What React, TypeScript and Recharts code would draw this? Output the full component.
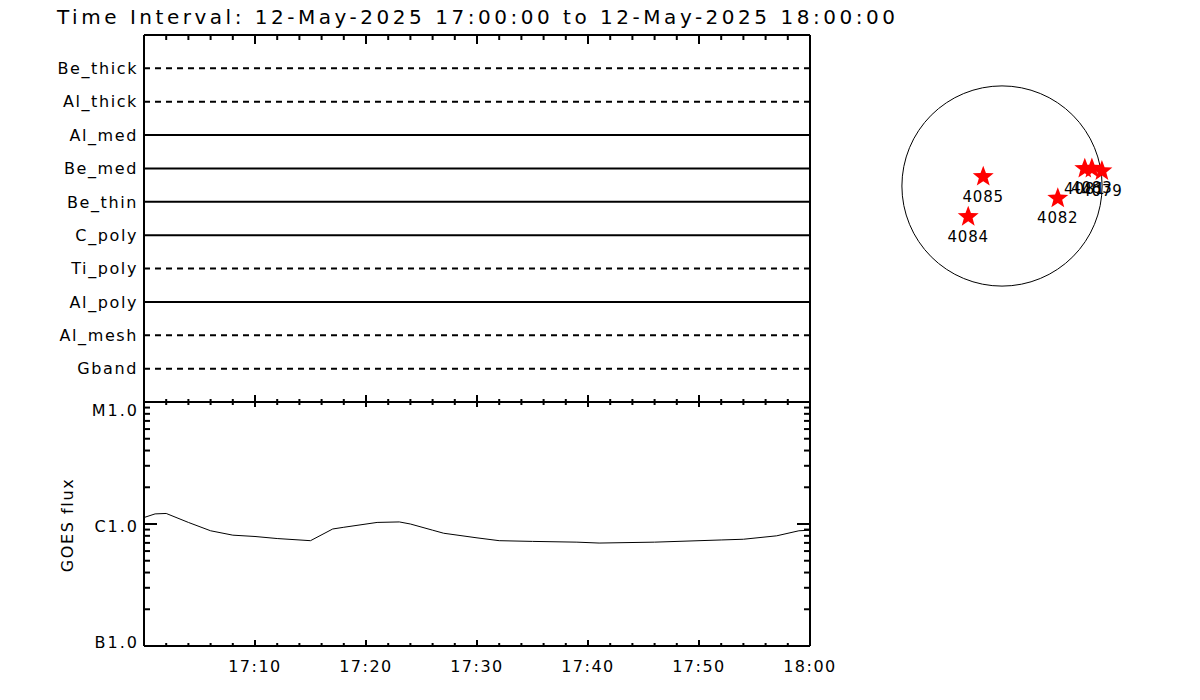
import React from "react";
import {
  LineChart,
  Line,
  XAxis,
  YAxis,
  ReferenceLine,
  ReferenceDot,
  ScatterChart,
  Scatter,
} from "recharts";

// filters, top to bottom
const filters = ["Be_thick", "Al_thick", "Al_med", "Be_med", "Be_thin", "C_poly", "Ti_poly", "Al_poly", "Al_mesh", "Gband"];
const dashedFilters = ["Be_thick", "Al_thick", "Ti_poly", "Al_mesh", "Gband"];

// GOES flux, minutes after 17:00
const goesMinutes = [0, 1, 2, 4, 6, 8, 10, 12, 15, 17, 18, 21, 23, 24, 26, 27, 30, 32, 35, 39, 41, 46, 52, 54, 57, 59, 60];
const goesFlux = [
  1.13e-6, 1.21e-6, 1.22e-6, 1.03e-6, 8.8e-7, 8.1e-7, 7.9e-7, 7.6e-7, 7.3e-7, 9.1e-7, 9.4e-7, 1.03e-6, 1.04e-6,
  1.0e-6, 8.9e-7, 8.4e-7, 7.7e-7, 7.3e-7, 7.2e-7, 7.1e-7, 6.98e-7, 7.1e-7, 7.4e-7, 7.5e-7, 8.0e-7, 8.8e-7, 8.9e-7,
];

const timeTicks = [0, 2, 4, 6, 8, 10, 12, 14, 16, 18, 20, 22, 24, 26, 28, 30, 32, 34, 36, 38, 40, 42, 44, 46, 48, 50, 52, 54, 56, 58, 60];
const timeMajor = [10, 20, 30, 40, 50, 60];
const timeLabels = ["17:10", "17:20", "17:30", "17:40", "17:50", "18:00"];

const fluxTicks = [
  1e-7, 2e-7, 3e-7, 4e-7, 5e-7, 6e-7, 7e-7, 8e-7, 9e-7,
  1e-6, 2e-6, 3e-6, 4e-6, 5e-6, 6e-6, 7e-6, 8e-6, 9e-6, 1e-5,
];
const fluxMajor = [1e-7, 1e-6, 1e-5];
const fluxLabels = ["B1.0", "C1.0", "M1.0"];

// active regions on the disk, arcsec
const regionNames = ["4085", "4084", "4082", "4081", "4083", "4079"];
const regionX = [-180, -324, 535, 794, 862, 958];
const regionY = [89, -295, -118, 166, 168, 144];
const SOLAR_RADIUS = 960;

const FONT = "DejaVu Sans";
const DISK_DOMAIN = 1170;
const DISK_PX = 244;

const goesData = goesMinutes.map((t, i) => ({ t, flux: goesFlux[i] }));
const filterLevels = filters.map((_, i) => filters.length - i);
const filterData = [
  ...goesMinutes.map((t) => ({ t })),
  ...filters.map((name, i) => ({ name, level: filterLevels[i] })),
];
const regionData = regionNames.map((name, i) => ({ name, x: regionX[i], y: regionY[i] }));

const majorIdx = (arr: number[], v: number) => arr.findIndex((m) => Math.abs(m - v) / m < 1e-6);

const TopPanelTopTick = ({ x, y, payload }: any) => {
  const major = payload.value % 10 === 0;
  return <line x1={x} x2={x} y1={y} y2={y + (major ? 9 : 5)} stroke="#000" strokeWidth={2} />;
};

const TopPanelBottomTick = ({ x, y, payload }: any) => {
  const major = payload.value % 10 === 0;
  return <line x1={x} x2={x} y1={y} y2={y - (major ? 7 : 3)} stroke="#000" strokeWidth={2} />;
};

const FilterTick = ({ x, y, payload }: any) => {
  const name = filters[filterLevels.indexOf(payload.value)];
  return (
    <text x={x - 6} y={y} dy="0.36em" textAnchor="end" fontFamily={FONT} fontSize={16} letterSpacing={1.6} fill="#000">
      {name}
    </text>
  );
};

const GoesTopTick = ({ x, y, payload }: any) => {
  const major = payload.value % 10 === 0;
  return <line x1={x} x2={x} y1={y} y2={y + (major ? 5 : 3)} stroke="#000" strokeWidth={2} />;
};

const GoesBottomTick = ({ x, y, payload }: any) => {
  const i = timeMajor.indexOf(payload.value);
  const major = payload.value % 10 === 0;
  return (
    <g>
      <line x1={x} x2={x} y1={y} y2={y - (major ? 6 : 3)} stroke="#000" strokeWidth={2} />
      {i >= 0 && (
        <text x={x} y={y + 26} textAnchor="middle" fontFamily={FONT} fontSize={16} letterSpacing={1.5} fill="#000">
          {timeLabels[i]}
        </text>
      )}
    </g>
  );
};

const FluxLeftTick = ({ x, y, payload }: any) => {
  const i = majorIdx(fluxMajor, payload.value);
  const shift = i === 0 ? -4 : i === 2 ? 8 : 2;
  return (
    <g>
      <line x1={x} x2={x + (i >= 0 ? 13 : 6)} y1={y} y2={y} stroke="#000" strokeWidth={2} />
      {i >= 0 && (
        <text x={x - 5} y={y + shift} dy="0.36em" textAnchor="end" fontFamily={FONT} fontSize={16} letterSpacing={2} fill="#000">
          {fluxLabels[i]}
        </text>
      )}
    </g>
  );
};

const FluxRightTick = ({ x, y, payload }: any) => {
  const i = majorIdx(fluxMajor, payload.value);
  return <line x1={x} x2={x - (i >= 0 ? 13 : 6)} y1={y} y2={y} stroke="#000" strokeWidth={2} />;
};

const StarShape = (props: any) => {
  const { cx, cy, payload } = props;
  const pts: string[] = [];
  for (let k = 0; k < 10; k++) {
    const r = k % 2 === 0 ? 11 : 4.6;
    const a = -Math.PI / 2 + (k * Math.PI) / 5;
    pts.push(`${cx + r * Math.cos(a)},${cy + r * Math.sin(a)}`);
  }
  return (
    <g>
      <polygon points={pts.join(" ")} fill="#ff0000" />
      <text x={cx} y={cy + 25} textAnchor="middle" fontFamily={FONT} fontSize={15} letterSpacing={0.8} fill="#000">
        {payload.name}
      </text>
    </g>
  );
};

const axisLine = { stroke: "#000", strokeWidth: 2 };

export default function App() {
  return (
    <div style={{ position: "absolute", left: 0, top: 0, width: 1200, height: 700, background: "#fff", overflow: "hidden" }}>
      <svg width={1200} height={700} style={{ position: "absolute", left: 0, top: 0 }}>
        <text x={57} y={24} fontFamily={FONT} fontSize={20} textLength={838} lengthAdjust="spacing" fill="#000">
          Time Interval: 12-May-2025 17:00:00 to 12-May-2025 18:00:00
        </text>
        <text
          x={67}
          y={525}
          transform="rotate(-90 67 525)"
          dy="0.36em"
          textAnchor="middle"
          fontFamily={FONT}
          fontSize={16}
          letterSpacing={1.6}
          fill="#000"
        >
          GOES flux
        </text>
      </svg>

      {/* filter panel */}
      <div style={{ position: "absolute", left: 0, top: 0 }}>
        <LineChart width={1200} height={700} data={filterData} margin={{ top: 34, left: 143, right: 389, bottom: 297 }}>
          <XAxis xAxisId="top" orientation="top" type="number" dataKey="t" domain={[0, 60]} ticks={timeTicks}
            interval={0} height={1} tickSize={0} tickMargin={0} tickLine={false} axisLine={axisLine} tick={<TopPanelTopTick />} />
          <XAxis xAxisId="bottom" type="number" dataKey="t" domain={[0, 60]} ticks={timeTicks}
            interval={0} height={1} tickSize={0} tickMargin={0} tickLine={false} axisLine={axisLine} tick={<TopPanelBottomTick />} />
          <YAxis yAxisId="left" type="number" dataKey="level" domain={[0, 11]} ticks={filterLevels}
            interval={0} width={1} tickSize={0} tickMargin={0} tickLine={false} axisLine={axisLine} tick={<FilterTick />} />
          <YAxis yAxisId="right" orientation="right" type="number" dataKey="level" domain={[0, 11]} ticks={[0, 11]}
            width={1} tickSize={0} tickLine={false} axisLine={axisLine} tick={false} />
          {filters.map((f, i) => (
            <ReferenceLine
              key={f}
              xAxisId="bottom"
              yAxisId="left"
              y={filterLevels[i]}
              stroke="#000"
              strokeWidth={2}
              strokeDasharray={dashedFilters.includes(f) ? "6 5" : undefined}
            />
          ))}
        </LineChart>
      </div>

      {/* GOES panel */}
      <div style={{ position: "absolute", left: 0, top: 0 }}>
        <LineChart width={1200} height={700} data={goesData} margin={{ top: 401, left: 143, right: 389, bottom: 53 }}>
          <XAxis xAxisId="top" orientation="top" type="number" dataKey="t" domain={[0, 60]} ticks={timeTicks}
            interval={0} height={1} tickSize={0} tickMargin={0} tickLine={false} axisLine={axisLine} tick={<GoesTopTick />} />
          <XAxis xAxisId="bottom" type="number" dataKey="t" domain={[0, 60]} ticks={timeTicks}
            interval={0} height={1} tickSize={0} tickMargin={0} tickLine={false} axisLine={axisLine} tick={<GoesBottomTick />} />
          <YAxis yAxisId="left" type="number" scale="log" domain={[1e-7, 1e-5]} ticks={fluxTicks} allowDataOverflow
            interval={0} width={1} tickSize={0} tickMargin={0} tickLine={false} axisLine={axisLine} tick={<FluxLeftTick />} />
          <YAxis yAxisId="right" orientation="right" type="number" scale="log" domain={[1e-7, 1e-5]} ticks={fluxTicks} allowDataOverflow
            interval={0} width={1} tickSize={0} tickMargin={0} tickLine={false} axisLine={axisLine} tick={<FluxRightTick />} />
          <Line
            xAxisId="bottom"
            yAxisId="left"
            type="linear"
            dataKey="flux"
            stroke="#000"
            strokeWidth={1}
            dot={false}
            isAnimationActive={false}
          />
        </LineChart>
      </div>

      {/* solar disk */}
      <div style={{ position: "absolute", left: 852, top: 36 }}>
        <ScatterChart width={DISK_PX + 56} height={DISK_PX + 56} margin={{ top: 28, left: 28, right: 28, bottom: 28 }}>
          <XAxis type="number" dataKey="x" domain={[-DISK_DOMAIN, DISK_DOMAIN]} hide />
          <YAxis type="number" dataKey="y" domain={[-DISK_DOMAIN, DISK_DOMAIN]} hide />
          <ReferenceDot
            x={0}
            y={0}
            r={(SOLAR_RADIUS / (2 * DISK_DOMAIN)) * DISK_PX}
            fill="none"
            stroke="#000"
            strokeWidth={1}
            ifOverflow="visible"
          />
          <Scatter data={regionData} shape={<StarShape />} isAnimationActive={false} />
        </ScatterChart>
      </div>
    </div>
  );
}
